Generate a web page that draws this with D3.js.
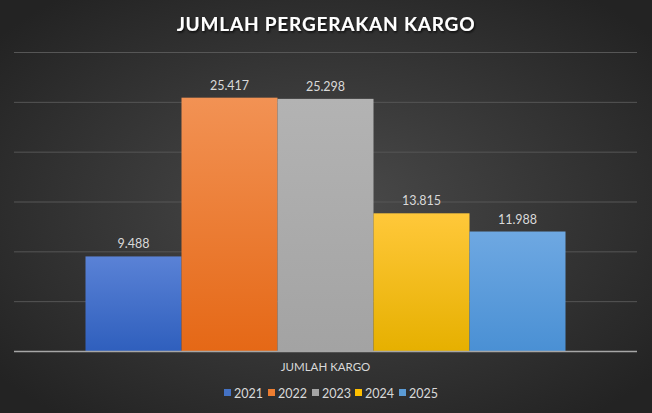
<!DOCTYPE html>
<html><head><meta charset="utf-8">
<script src="https://cdn.jsdelivr.net/npm/d3@7"></script>
<style>html,body{margin:0;padding:0;background:#2b2b2b;}svg{display:block;}</style>
</head><body>
<svg id="c" width="652" height="413"></svg>
<script>
const title = "JUMLAH PERGERAKAN KARGO";
const category = "JUMLAH KARGO";
const series = ["2021","2022","2023","2024","2025"];
const values = [9.488, 25.417, 25.298, 13.815, 11.988];
const labels = ["9.488","25.417","25.298","13.815","11.988"];
const yTicks = [0,5,10,15,20,25,30];
const colorsTop = ["#5a82d6","#f29254","#b3b3b3","#ffc83a","#6ea8e2"];
const colorsBot = ["#2f5fbd","#e56816","#a3a3a3","#e6b000","#4a90d4"];
const legendColors = ["#4472c4","#ed7d31","#a5a5a5","#ffc000","#5b9bd5"];

(function(){
const W=652,H=413;
const svg=d3.select("#c");
const defs=svg.append("defs");
const bg=defs.append("radialGradient").attr("id","bg").attr("cx","50%").attr("cy","50%").attr("r","65%");
bg.append("stop").attr("offset","0%").attr("stop-color","#4b4b4b");
bg.append("stop").attr("offset","100%").attr("stop-color","#232323");
svg.append("rect").attr("width",W).attr("height",H).attr("fill","url(#bg)");
series.forEach((s,i)=>{
  const g=defs.append("linearGradient").attr("id","g"+i).attr("x1",0).attr("y1",0).attr("x2",0).attr("y2",1);
  g.append("stop").attr("offset","0%").attr("stop-color",colorsTop[i]);
  g.append("stop").attr("offset","100%").attr("stop-color",colorsBot[i]);
});
const f=defs.append("filter").attr("id","sh").attr("x","-10%").attr("y","-30%").attr("width","120%").attr("height","160%");
f.append("feDropShadow").attr("dx",1).attr("dy",1.5).attr("stdDeviation",1.2).attr("flood-color","#000").attr("flood-opacity",0.8);

const pl=14,pr=637,pt=52,pb=351;
const y=d3.scaleLinear().domain([0,30]).range([pb,pt]);
const x0=d3.scaleBand().domain([category]).range([pl,pr]).paddingInner(0).paddingOuter(0);
const groupW=480;
const gx=x0(category)+(x0.bandwidth()-groupW)/2;
const x1=d3.scaleBand().domain(series).range([gx,gx+groupW]).padding(0);

const yAxis=d3.axisLeft(y).tickValues(yTicks).tickSize(-(pr-pl)).tickFormat("");
const ga=svg.append("g").attr("transform",`translate(${pl},0)`).call(yAxis);
ga.select(".domain").remove();
ga.selectAll(".tick line").attr("stroke","#565656").attr("stroke-width",1);
ga.selectAll(".tick").filter(d=>d===0).remove();

svg.append("g").selectAll("rect").data(values).join("rect")
  .attr("x",(d,i)=>x1(series[i])).attr("width",x1.bandwidth())
  .attr("y",d=>y(d)).attr("height",d=>pb-y(d))
  .attr("fill",(d,i)=>`url(#g${i})`);

svg.append("line").attr("x1",pl).attr("x2",pr).attr("y1",pb+0.5).attr("y2",pb+0.5)
  .attr("stroke","#a6a6a6").attr("stroke-width",1.5);

const font="Lato, 'Open Sans', sans-serif";
svg.append("g").selectAll("text").data(values).join("text")
  .attr("x",(d,i)=>x1(series[i])+x1.bandwidth()/2).attr("y",d=>y(d)-8)
  .attr("text-anchor","middle").attr("fill","#d9d9d9").attr("font-family",font).attr("font-size",12.5)
  .text((d,i)=>labels[i]);

svg.append("text").attr("x",x0(category)+x0.bandwidth()/2).attr("y",371).attr("text-anchor","middle")
  .attr("fill","#d9d9d9").attr("font-family",font).attr("font-size",11.5).text(category);

svg.append("text").attr("x",W/2).attr("y",31).attr("text-anchor","middle")
  .attr("fill","#ffffff").attr("font-family",font).attr("font-weight","bold").attr("font-size",19)
  .attr("letter-spacing","0.8px").attr("filter","url(#sh)").text(title);

const lx=[224,268,312,355,399];
const lg=svg.append("g").selectAll("g").data(series).join("g").attr("transform",(d,i)=>`translate(${lx[i]},393)`);
lg.append("rect").attr("x",0).attr("y",-4).attr("width",7).attr("height",7).attr("fill",(d,i)=>legendColors[i]);
lg.append("text").attr("x",10).attr("y",4.5).attr("fill","#d9d9d9").attr("font-family",font).attr("font-size",12.5).text(d=>d);
})();
</script>
</body></html>
